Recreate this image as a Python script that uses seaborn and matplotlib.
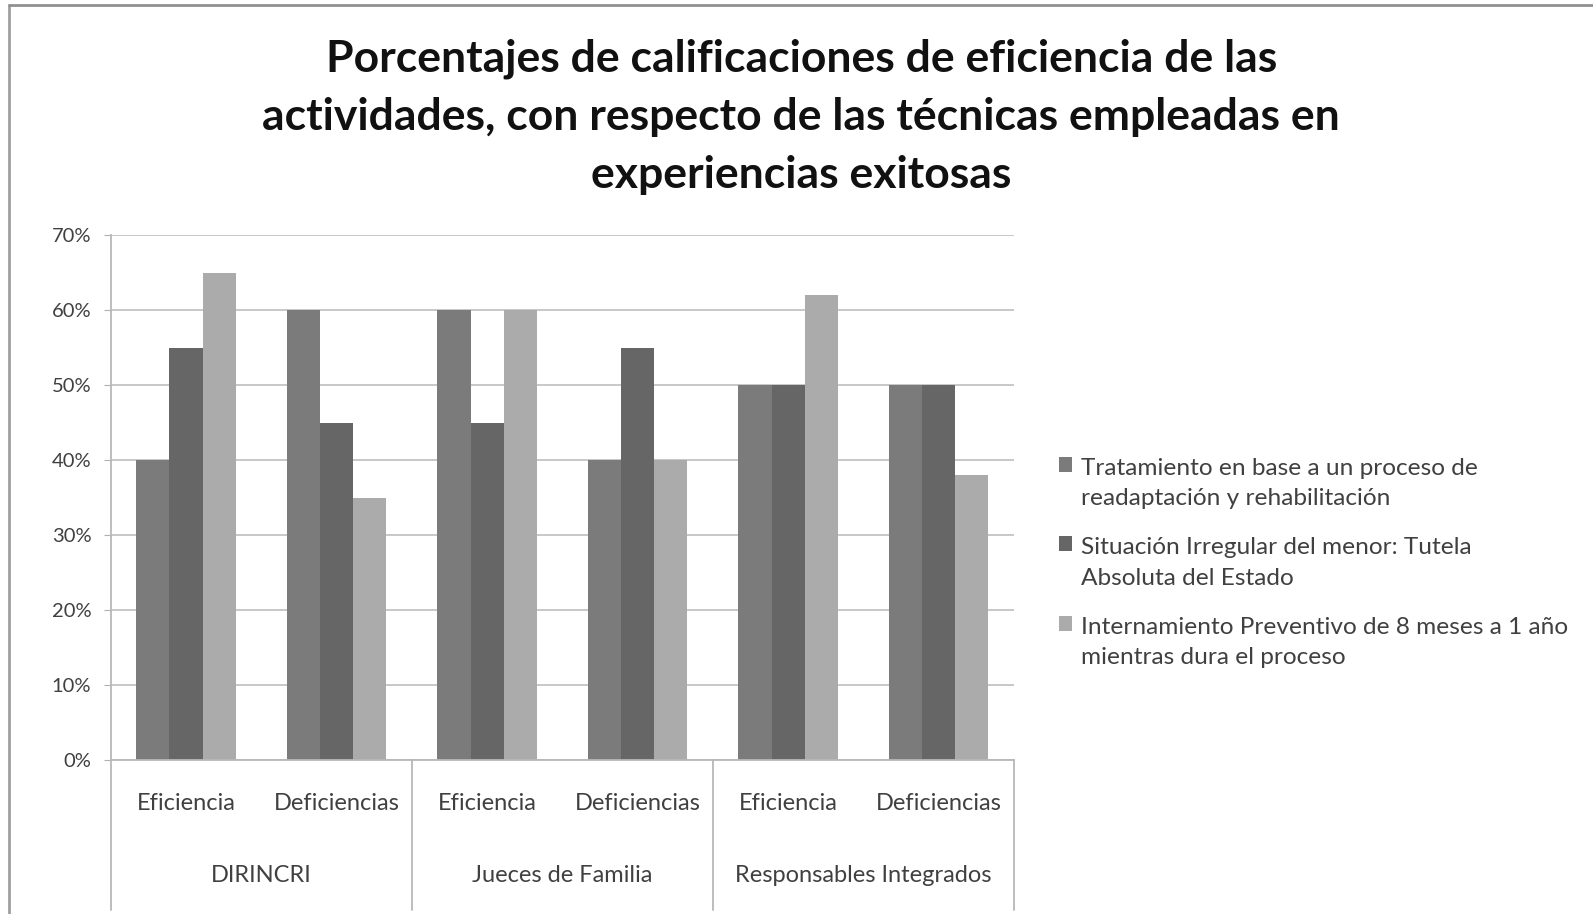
import numpy as np
import pandas as pd
import matplotlib.pyplot as plt
import seaborn as sns
from matplotlib.lines import Line2D
from matplotlib.patches import Patch, Rectangle
from matplotlib.legend_handler import HandlerPatch

groups = ['DIRINCRI', 'Jueces de Familia', 'Responsables Integrados']
subcats = ['Eficiencia', 'Deficiencias']
series = [
    'Tratamiento en base a un proceso de\nreadaptación y rehabilitación',
    'Situación Irregular del menor: Tutela\nAbsoluta del Estado',
    'Internamiento Preventivo de 8 meses a 1 año\nmientras dura el proceso',
]
# values in %, order: DIRINCRI Ef, DIRINCRI Def, Jueces Ef, Jueces Def, Resp Ef, Resp Def
tratamiento = [40, 60, 60, 40, 50, 50]
situacion = [55, 45, 45, 55, 50, 50]
internamiento = [65, 35, 60, 40, 62, 38]
colors = ['#7b7b7b', '#666666', '#ababab']

sns.set_style('white')
plt.rcParams['font.family'] = ['Lato', 'DejaVu Sans']

slots = [f'{g}|{s}' for g in groups for s in subcats]
rows = []
for name, vals in zip(series, [tratamiento, situacion, internamiento]):
    for slot, v in zip(slots, vals):
        rows.append({'slot': slot, 'serie': name, 'valor': v / 100})
df = pd.DataFrame(rows)

fig = plt.figure(figsize=(15.93, 9.14), dpi=100)
ax = fig.add_axes([0.0695, 0.1685, 0.567, 0.574])

sns.barplot(data=df, x='slot', y='valor', hue='serie', order=slots,
            hue_order=series, palette=colors, width=0.66, saturation=1,
            edgecolor='none', ax=ax, legend=False)

ax.set_ylim(0, 0.70)
ax.set_xlim(-0.5, len(slots) - 0.5)
ax.set_yticks(np.arange(0, 0.71, 0.1))
ax.set_yticklabels([f'{int(round(t * 100))}%' for t in np.arange(0, 0.71, 0.1)],
                   fontsize=14.5, color='#404040')
ax.yaxis.grid(True, color='#c4c4c4', linewidth=1.3)
ax.set_axisbelow(True)
ax.tick_params(axis='y', which='both', left=True, length=5, color='#b0b0b0', pad=9)
ax.tick_params(axis='x', bottom=False)
ax.set_xlabel('')
ax.set_ylabel('')
for side in ['top', 'right']:
    ax.spines[side].set_visible(False)
ax.spines['left'].set_color('#b8b8b8')
ax.spines['left'].set_linewidth(1.3)
ax.spines['bottom'].set_color('#b8b8b8')
ax.spines['bottom'].set_linewidth(1.3)

ax.set_xticks(range(len(slots)))
ax.set_xticklabels([s.split('|')[1] for s in slots], fontsize=17, color='#404040')
ax.tick_params(axis='x', pad=20)

# group labels and separators
trans = ax.get_xaxis_transform()
for i, g in enumerate(groups):
    ax.text(2 * i + 0.5, -0.22, g, transform=trans, ha='center', va='center',
            fontsize=17, color='#404040')
for xb in [-0.5, 1.5, 3.5, 5.5]:
    ax.add_line(Line2D([xb, xb], [0, -0.285], transform=trans, color='#b8b8b8',
                       linewidth=1.3, clip_on=False))

fig.text(0.503, 0.872,
         'Porcentajes de calificaciones de eficiencia de las\n'
         'actividades, con respecto de las técnicas empleadas en\n'
         'experiencias exitosas',
         ha='center', va='center', fontsize=32, fontweight='bold',
         color='#111111', linespacing=1.55)


# legend squares sit on the first text line, like in Excel
def top_square(legend, orig_handle, xdescent, ydescent, width, height, fontsize):
    return Rectangle((-xdescent, -ydescent + fontsize * 0.78), width, height)


handles = [Patch(facecolor=c, edgecolor='none') for c in colors]
leg = fig.legend(handles, series, loc='center left', bbox_to_anchor=(0.651, 0.384),
                 frameon=False, fontsize=17.6, handlelength=0.55, handleheight=0.55,
                 handletextpad=0.35, labelspacing=1.15, labelcolor='#404040',
                 handler_map={Patch: HandlerPatch(patch_func=top_square)})
for t in leg.get_texts():
    t.set_linespacing(1.55)

# outer chart border (left and top)
fig.add_artist(Line2D([0.0055, 0.0055], [0, 0.994], transform=fig.transFigure,
                      color='#a0a0a0', linewidth=2))
fig.add_artist(Line2D([0.0055, 1], [0.994, 0.994], transform=fig.transFigure,
                      color='#909090', linewidth=2))

fig.savefig('out.png', dpi=100)
